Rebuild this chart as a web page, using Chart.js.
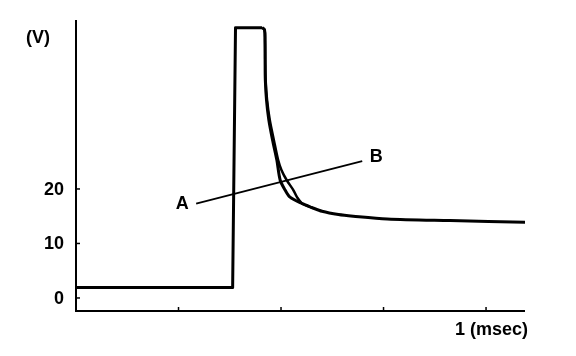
<!DOCTYPE html>
<html>
<head>
<meta charset="utf-8">
<script src="https://cdn.jsdelivr.net/npm/chart.js@4.4.1/dist/chart.umd.min.js"></script>
<style>
  html, body { margin: 0; padding: 0; background: #fff; }
  #wrap { width: 576px; height: 356px; position: relative; }
</style>
</head>
<body>
<div id="wrap"><canvas id="c" width="576" height="356"></canvas></div>
<script>
// ---- data (time in msec, voltage in V) ----
const pulseTime    = [0.000, 0.382, 0.389, 0.454];
const pulseVolt    = [1.9,   1.9,   49.6,  49.6];

const decayATime   = [0.454, 0.4598, 0.4610, 0.4612, 0.4617, 0.4646, 0.4702, 0.4793, 0.4898, 0.498, 0.510, 0.522, 0.552, 0.575, 0.600, 0.640, 0.676, 0.759, 0.912, 1.100];
const decayAVolt   = [49.6,  49.2,   47.3,   43.7,   40.0,   36.3,   32.7,   29.0,   25.3,   21.6,  19.8,  18.5,  17.3,  16.6,  15.9,  15.3,  15.0,  14.5,  14.2,  13.9];

const decayBTime   = [0.454, 0.4598, 0.4610, 0.4615, 0.4625, 0.4660, 0.4725, 0.4825, 0.4930, 0.501, 0.514, 0.530, 0.539, 0.552, 0.575];
const decayBVolt   = [49.6,  49.2,   47.3,   43.7,   40.0,   36.3,   32.7,   29.0,   25.3,   23.5,  21.6,  19.8,  18.5,  17.3,  16.6];

const pointerTime  = [0.293, 0.698];
const pointerVolt  = [17.3,  25.1];

const yTicks       = [0, 10, 20];
const yTickLabels  = ["0", "10", "20"];
const xTicks       = [0.25, 0.5, 0.75, 1.0];
const xTickLabel   = "1 (msec)";
const yUnitLabel   = "(V)";
const curveLabels  = ["A", "B"];

const toPts = (xs, ys) => xs.map((x, i) => ({ x: x, y: ys[i] }));

const FONT = 'bold 18px "Liberation Sans", Arial, sans-serif';

const overlay = {
  id: 'overlay',
  afterDatasetsDraw(chart) {
    const ctx = chart.ctx;
    const xs = chart.scales.x, ys = chart.scales.y;
    const a = chart.chartArea;
    ctx.save();
    ctx.strokeStyle = '#000';
    ctx.fillStyle = '#000';
    // axes
    ctx.lineWidth = 2;
    ctx.beginPath();
    ctx.moveTo(a.left, a.top);
    ctx.lineTo(a.left, a.bottom);
    ctx.lineTo(a.right, a.bottom);
    ctx.stroke();
    // ticks (inward)
    ctx.lineWidth = 1.5;
    yTicks.forEach(v => {
      const py = ys.getPixelForValue(v);
      ctx.beginPath(); ctx.moveTo(a.left, py); ctx.lineTo(a.left + 4, py); ctx.stroke();
    });
    xTicks.forEach(v => {
      const px = xs.getPixelForValue(v);
      ctx.beginPath(); ctx.moveTo(px, a.bottom); ctx.lineTo(px, a.bottom - 4); ctx.stroke();
    });
    // labels
    ctx.font = FONT;
    ctx.textAlign = 'right';
    ctx.textBaseline = 'middle';
    yTicks.forEach((v, i) => {
      ctx.fillText(yTickLabels[i], a.left - 12, ys.getPixelForValue(v) + 1);
    });
    ctx.textAlign = 'center';
    ctx.fillText(yUnitLabel, a.left - 38, ys.getPixelForValue(49.6) + 10);
    ctx.textAlign = 'left';
    ctx.fillText(xTickLabel, xs.getPixelForValue(1.0) - 31, a.bottom + 19);
    ctx.textAlign = 'center';
    ctx.fillText(curveLabels[0], xs.getPixelForValue(pointerTime[0]) - 14, ys.getPixelForValue(pointerVolt[0]));
    ctx.fillText(curveLabels[1], xs.getPixelForValue(pointerTime[1]) + 14, ys.getPixelForValue(pointerVolt[1]) - 4);
    ctx.restore();
  }
};

new Chart(document.getElementById('c'), {
  type: 'line',
  data: {
    datasets: [
      { data: toPts(pulseTime, pulseVolt), borderColor: '#000', borderWidth: 3, pointRadius: 0, tension: 0, borderJoinStyle: 'round' },
      { data: toPts(decayATime, decayAVolt), borderColor: '#000', borderWidth: 3, pointRadius: 0, tension: 0.3, borderJoinStyle: 'round' },
      { data: toPts(decayBTime, decayBVolt), borderColor: '#000', borderWidth: 2.5, pointRadius: 0, tension: 0.3, borderJoinStyle: 'round' },
      { data: toPts(pointerTime, pointerVolt), borderColor: '#000', borderWidth: 1.8, pointRadius: 0, tension: 0 }
    ]
  },
  options: {
    responsive: false,
    animation: false,
    layout: { padding: { left: 76, right: 51, top: 20, bottom: 45 } },
    plugins: { legend: { display: false }, tooltip: { enabled: false } },
    scales: {
      x: { type: 'linear', min: 0, max: 1.095, display: false },
      y: { type: 'linear', min: -2.39, max: 51.0, display: false }
    }
  },
  plugins: [overlay]
});
</script>
</body>
</html>
